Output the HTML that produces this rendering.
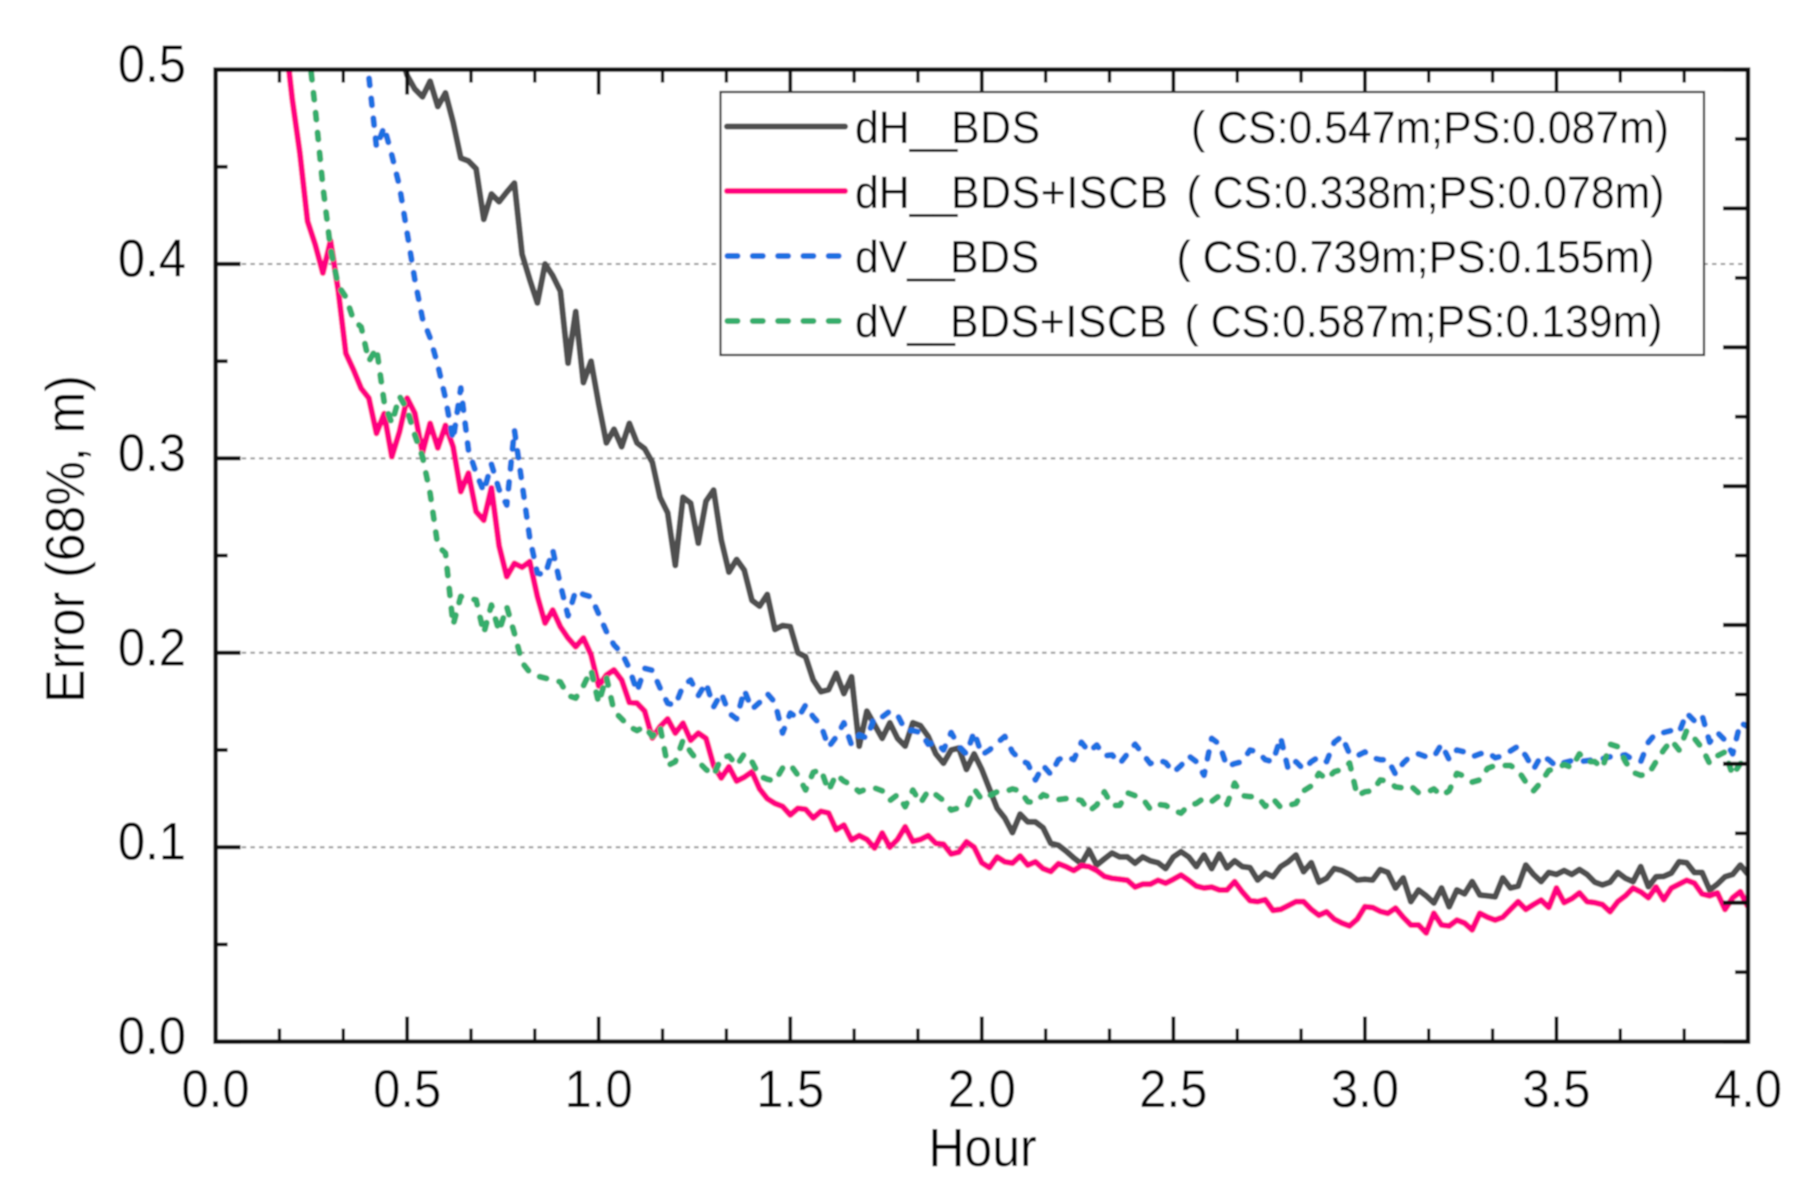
<!DOCTYPE html>
<html lang="en">
<head>
<meta charset="utf-8">
<title>Error versus hour chart</title>
<style>
html,body{margin:0;padding:0;background:#fff;}
svg{display:block;}
text{font-family:"Liberation Sans",Arial,sans-serif;fill:#000;}
</style>
</head>
<body>
<svg id="chart" xmlns="http://www.w3.org/2000/svg" width="1818" height="1200" viewBox="0 0 1818 1200">
  <defs>
    <clipPath id="plot-clip"><rect x="215.6" y="69.6" width="1532.4" height="972"/></clipPath>
    <filter id="soft" x="0" y="0" width="100%" height="100%" filterUnits="objectBoundingBox"><feGaussianBlur stdDeviation="0.9"/></filter>
  </defs>
  <g filter="url(#soft)">
    <rect x="0" y="0" width="1818" height="1200" fill="#fff"/>
    <g id="grid"></g>
    <g clip-path="url(#plot-clip)" fill="none" stroke-linejoin="round">
      <path id="line-dh-bds" stroke="#505050" stroke-width="6"/>
      <path id="line-dh-iscb" stroke="#ff0080" stroke-width="6"/>
      <path id="line-dv-bds" stroke="#1a70e2" stroke-width="6" stroke-dasharray="7 13" stroke-linecap="round"/>
      <path id="line-dv-iscb" stroke="#35ae6c" stroke-width="6" stroke-dasharray="7 13" stroke-linecap="round"/>
    </g>
    <g id="ticks"></g>
    <rect x="215.6" y="69.6" width="1532.4" height="972" fill="none" stroke="#111" stroke-width="4.5"/>
    <g id="tick-labels" font-size="49"></g>
    <text font-size="50" text-anchor="middle" transform="translate(982.5 1166) scale(1 1.08)">Hour</text>
    <text font-size="50" text-anchor="middle" transform="translate(84 539) rotate(-90) scale(1 1.1)">Error (68%, m)</text>

    <g>
      <rect x="720.5" y="92" width="983.5" height="263" fill="#fff" stroke="#333" stroke-width="2.2"/>
      <g>
        <line x1="727" y1="126.5" x2="845" y2="126.5" stroke="#505050" stroke-width="6" stroke-linecap="round"/>
        <text font-size="42.8" transform="translate(0 143) scale(1 1.07)"><tspan x="855">dH__</tspan><tspan x="951" letter-spacing="0.6">BDS</tspan><tspan x="1191">( CS:0.547m;PS:0.087m)</tspan></text>
      </g>
      <g>
        <line x1="727" y1="191" x2="845" y2="191" stroke="#ff0080" stroke-width="6" stroke-linecap="round"/>
        <text font-size="42.8" transform="translate(0 208) scale(1 1.07)"><tspan x="855">dH__</tspan><tspan x="951" letter-spacing="0.6">BDS+ISCB</tspan><tspan x="1186.5">( CS:0.338m;PS:0.078m)</tspan></text>
      </g>
      <g>
        <line x1="727.5" y1="256" x2="842" y2="256" stroke="#1a70e2" stroke-width="6" stroke-linecap="round" stroke-dasharray="10 15.3"/>
        <text font-size="42.8" transform="translate(0 272.5) scale(1 1.07)"><tspan x="855">dV__</tspan><tspan x="950" letter-spacing="0.6">BDS</tspan><tspan x="1176.5">( CS:0.739m;PS:0.155m)</tspan></text>
      </g>
      <g>
        <line x1="727.5" y1="321" x2="842" y2="321" stroke="#35ae6c" stroke-width="6" stroke-linecap="round" stroke-dasharray="10 15.3"/>
        <text font-size="42.8" transform="translate(0 337) scale(1 1.07)"><tspan x="855">dV__</tspan><tspan x="950" letter-spacing="0.6">BDS+ISCB</tspan><tspan x="1184.5">( CS:0.587m;PS:0.139m)</tspan></text>
      </g>
    </g>
  </g>
</svg>
<script>
// Chart data: error (m) sampled every hourStep hours, from 0 to 4 h.
const hourStep = 0.02;
const xTickLabels = ["0.0","0.5","1.0","1.5","2.0","2.5","3.0","3.5","4.0"];
const yTickLabels = ["0.0","0.1","0.2","0.3","0.4","0.5"];
const gridValues = [0.1,0.2,0.3,0.4];

const dhBds = [
.95,.93,.91,.89,.87,.85,.83,.81,.79,.77,.75,.73,.71,.69,.67,.65,.63,.61,.59,.575,.56,.545,.53,.52,.51,
.497,.490,.486,.494,.481,.488,.473,.4545,.453,.449,.423,.436,.432,.437,.4416,.405,.392,.380,.400,.394,.386,.349,.3755,.339,.350,
.328,.308,.315,.306,.318,.308,.305,.298,.280,.272,.245,.280,.277,.2564,.278,.2837,.258,.2415,.248,.2425,.227,.224,.230,.212,.214,
.2135,.200,.198,.186,.180,.181,.1895,.179,.1877,.152,.170,.163,.156,.164,.156,.152,.164,.1625,.157,.148,.1432,.150,.151,.140,.148,
.140,.130,.120,.115,.1075,.117,.113,.113,.110,.102,.101,.098,.0945,.0915,.0985,.0908,.094,.097,.095,.095,.0918,.095,.093,.092,.089,
.095,.0977,.095,.090,.096,.089,.0965,.0893,.093,.090,.0895,.0831,.0867,.0848,.090,.0925,.096,.0874,.092,.082,.084,.089,.088,.086,.0831,
.0835,.0831,.0885,.087,.079,.0842,.072,.078,.075,.0713,.079,.0694,.078,.076,.0823,.0754,.075,.0745,.0842,.079,.080,.0908,.086,.0823,.087,
.086,.088,.086,.0885,.086,.082,.0806,.082,.087,.084,.0823,.090,.0797,.0848,.085,.0867,.0925,.092,.087,.087,.078,.081,.0848,.086,.0908,
.086];

const dhBdsIscb = [
.98,.92,.86,.80,.74,.68,.63,.58,.55,.52,.485,.457,.422,.410,.3954,.4118,.3866,.354,.3455,.336,.331,.3129,.323,.3009,.3137,
.331,.3233,.303,.318,.3054,.317,.306,.2829,.2924,.2726,.2682,.2848,.255,.2392,.246,.244,.2469,.229,.2153,.222,.2134,.2076,.2031,.2076,.199,
.183,.1885,.1912,.186,.1745,.1741,.170,.1562,.162,.166,.1587,.1638,.155,.1587,.156,.142,.1356,.1414,.134,.136,.1388,.130,.125,.1225,.121,
.1166,.120,.1195,.115,.1185,.1176,.109,.1114,.1037,.106,.104,.0996,.1073,.100,.104,.1105,.103,.104,.106,.102,.1015,.0965,.0975,.1028,.100,
.092,.0895,.095,.0925,.0918,.0955,.0908,.0925,.089,.0875,.0915,.090,.088,.0905,.090,.088,.085,.084,.0835,.083,.0795,.081,.081,.083,.0815,
.0835,.0857,.083,.080,.079,.0795,.078,.078,.0823,.077,.0725,.072,.073,.0675,.068,.070,.072,.072,.068,.065,.0668,.063,.061,.0595,.063,
.0694,.069,.067,.066,.0687,.064,.060,.060,.0559,.066,.060,.0595,.0625,.061,.0575,.066,.064,.0625,.064,.068,.072,.068,.0705,.0728,.069,
.079,.0715,.0735,.0765,.072,.0715,.0705,.0668,.072,.075,.079,.077,.074,.0795,.073,.079,.081,.083,.0815,.076,.075,.0765,.068,.074,.0771,
.0694];

const dvBds = [
1.2,1.15,1.1,1.05,1.0,.96,.92,.88,.84,.80,.76,.72,.68,.65,.62,.59,.565,.54,.52,.505,.4965,.46,.4705,.456,.44,
.416,.392,.372,.362,.348,.331,.3095,.3362,.3043,.2925,.2829,.297,.284,.276,.3146,.287,.2591,.241,.240,.2529,.235,.219,.232,.230,.2288,
.220,.211,.204,.200,.192,.180,.192,.191,.182,.174,.173,.183,.186,.178,.1845,.1722,.1793,.169,.166,.1808,.171,.1745,.179,.1745,.1587,
.169,.1664,.1731,.167,.1628,.1515,.1567,.164,.1526,.1577,.1562,.167,.167,.170,.168,.1603,.160,.159,.153,.154,.150,.159,.152,.148,.1594,
.1475,.150,.1536,.157,.149,.145,.143,.1346,.142,.1375,.145,.1469,.145,.154,.149,.1526,.147,.1475,.143,.148,.153,.148,.143,.145,.1435,
.1385,.142,.147,.144,.137,.156,.153,.1415,.143,.144,.150,.149,.145,.144,.1565,.140,.144,.140,.144,.1465,.144,.154,.157,.148,.147,
.149,.146,.145,.145,.1375,.1433,.147,.148,.1465,.1465,.153,.145,.150,.149,.1465,.148,.149,.146,.147,.1495,.152,.147,.140,.147,.145,
.1415,.1435,.1445,.144,.1445,.145,.1455,.1465,.147,.1475,.145,.144,.154,.1587,.159,.160,.159,.169,.165,.168,.154,.159,.155,.148,.164,
.162];

const dvBdsIscb = [
1.0,.95,.90,.86,.82,.78,.74,.70,.66,.62,.585,.55,.515,.48,.44,.408,.389,.383,.3712,.3676,.35,.3567,.329,.318,.332,
.325,.312,.3009,.282,.255,.2513,.2143,.229,.228,.2272,.2101,.2246,.211,.2237,.210,.195,.190,.188,.187,.186,.185,.178,.1767,.183,.1912,
.1741,.1876,.170,.166,.162,.160,.162,.157,.162,.142,.144,.155,.149,.144,.140,.137,.1459,.147,.142,.148,.144,.1365,.135,.134,.1407,
.1425,.137,.1294,.1385,.140,.129,.1375,.134,.132,.1285,.130,.1305,.129,.124,.127,.1208,.1294,.1227,.129,.127,.124,.1191,.1202,.1205,.130,
.1245,.1265,.1285,.1285,.130,.129,.1234,.123,.127,.1255,.1245,.125,.125,.124,.1185,.1217,.1285,.1215,.1215,.128,.1265,.125,.1195,.122,.1215,
.119,.1175,.1215,.1225,.1253,.1235,.1265,.122,.133,.1265,.126,.126,.121,.125,.1205,.1215,.1225,.129,.1315,.138,.135,.1388,.140,.1433,.1265,
.1285,.129,.1346,.134,.131,.1305,.1315,.128,.128,.130,.1265,.129,.138,.1365,.1335,.1346,.1405,.142,.142,.142,.1395,.1335,.129,.1335,.1395,
.1405,.1425,.141,.148,.144,.144,.1407,.153,.1517,.144,.1385,.137,.1375,.144,.150,.155,.150,.160,.156,.151,.143,.147,.149,.137,.143,
.144];

const SVG_NS = "http://www.w3.org/2000/svg";
function xScale(hour){ return 215.6 + hour * 383.1; }
function yScale(value){ return 1041.6 - value * 1944; }

function linePath(values){
  let d = "";
  values.forEach(function(v, i){
    d += (i ? "L" : "M") + xScale(i * hourStep).toFixed(2) + " " + yScale(v).toFixed(2);
  });
  return d;
}
document.getElementById("line-dh-bds").setAttribute("d", linePath(dhBds));
document.getElementById("line-dh-iscb").setAttribute("d", linePath(dhBdsIscb));
document.getElementById("line-dv-bds").setAttribute("d", linePath(dvBds));
document.getElementById("line-dv-iscb").setAttribute("d", linePath(dvBdsIscb));

const gridGroup = document.getElementById("grid");
gridValues.forEach(function(v){
  const el = document.createElementNS(SVG_NS, "line");
  
  
  el.setAttribute("x1", xScale(0));
  el.setAttribute("x2", xScale(4));
  el.setAttribute("y1", yScale(v));
  el.setAttribute("y2", yScale(v));
  el.setAttribute("stroke", "#9a9a9a");
  el.setAttribute("stroke-width", "2");
  el.setAttribute("stroke-dasharray", "4.5 4.2");
  gridGroup.appendChild(el);
});

const tickGroup = document.getElementById("ticks");
function addTick(x1, y1, x2, y2, w){
  const el = document.createElementNS(SVG_NS, "line");
  
  
  el.setAttribute("x1", x1);
  el.setAttribute("y1", y1);
  el.setAttribute("x2", x2);
  el.setAttribute("y2", y2);
  el.setAttribute("stroke", "#111");
  el.setAttribute("stroke-width", w);
  tickGroup.appendChild(el);
}
// x ticks: major every 0.5 h with two minors between, mirrored top and bottom
for (let k = 0; k <= 24; k++){
  const major = k % 3 === 0;
  const len = major ? 25 : 13;
  const w = major ? 3.8 : 3.4;
  const x = xScale(k / 6);
  addTick(x, yScale(0), x, yScale(0) - len, w);
  addTick(x, yScale(0.5), x, yScale(0.5) + len, w);
}
// left y ticks: major every 0.1, minor every 0.05
for (let k = 0; k <= 10; k++){
  const major = k % 2 === 0;
  const y = yScale(k * 0.05);
  addTick(xScale(0), y, xScale(0) + (major ? 25 : 12), y, major ? 4.2 : 3.8);
}
// right y ticks: 14 equal intervals, every second one long
for (let k = 0; k <= 14; k++){
  const major = k % 2 === 0;
  const y = yScale(k * 0.5 / 14);
  addTick(xScale(4), y, xScale(4) - (major ? 25 : 13), y, major ? 4.2 : 3.8);
}

const labelGroup = document.getElementById("tick-labels");
xTickLabels.forEach(function(label){
  const el = document.createElementNS(SVG_NS, "text");
  
  
  el.setAttribute("transform", "translate(" + xScale(parseFloat(label)) + " 1107) scale(1 1.08)");
  el.setAttribute("text-anchor", "middle");
  el.textContent = label;
  labelGroup.appendChild(el);
});
yTickLabels.forEach(function(label){
  const el = document.createElementNS(SVG_NS, "text");
  
  
  el.setAttribute("transform", "translate(186 " + (yScale(parseFloat(label)) + 12.5) + ") scale(1 1.08)");
  el.setAttribute("text-anchor", "end");
  el.textContent = label;
  labelGroup.appendChild(el);
});
</script>
</body>
</html>
